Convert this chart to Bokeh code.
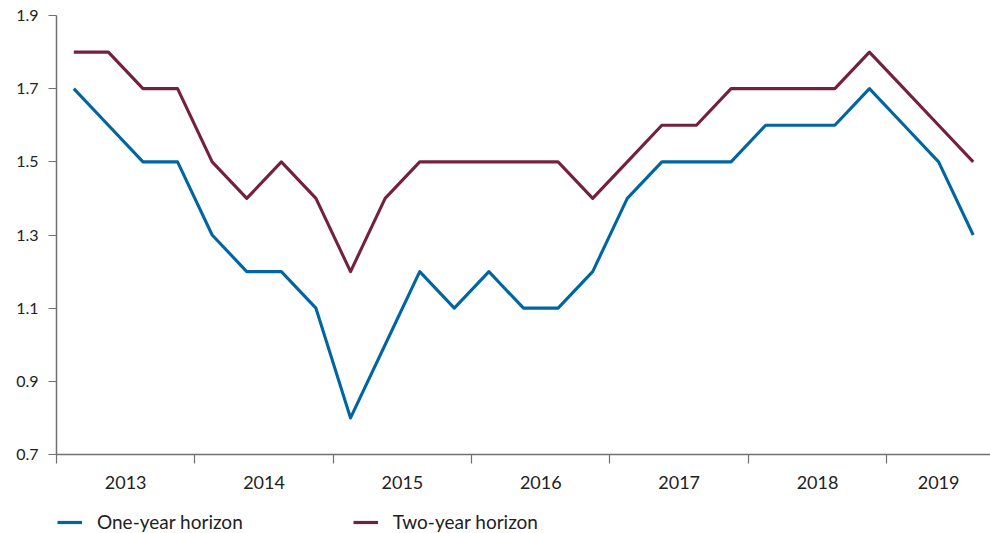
from bokeh.plotting import figure
from bokeh.layouts import column
from bokeh.models import FixedTicker, Legend, LegendItem, Range1d
from bokeh.embed import file_html
from bokeh.resources import INLINE

years = ["2013", "2014", "2015", "2016", "2017", "2018", "2019"]
quarters_per_year = [4, 4, 4, 4, 4, 4, 3]
one_year = [1.7, 1.6, 1.5, 1.5, 1.3, 1.2, 1.2, 1.1, 0.8, 1.0, 1.2, 1.1, 1.2, 1.1,
            1.1, 1.2, 1.4, 1.5, 1.5, 1.5, 1.6, 1.6, 1.6, 1.7, 1.6, 1.5, 1.3]
two_year = [1.8, 1.8, 1.7, 1.7, 1.5, 1.4, 1.5, 1.4, 1.2, 1.4, 1.5, 1.5, 1.5, 1.5,
            1.5, 1.4, 1.5, 1.6, 1.6, 1.7, 1.7, 1.7, 1.7, 1.8, 1.7, 1.6, 1.5]
y_ticks = [0.7, 0.9, 1.1, 1.3, 1.5, 1.7, 1.9]
series_names = ["One-year horizon", "Two-year horizon"]

BLUE = "#0066A2"
RED = "#75203D"
FONT = "Lato"

n = len(one_year)
x = [i + 0.5 for i in range(n)]

# year boundaries and centers
bounds = [0]
for q in quarters_per_year:
    bounds.append(bounds[-1] + q)
centers = [(bounds[i] + bounds[i + 1]) / 2 for i in range(len(years))]

p = figure(width=990, height=500, output_backend="svg", toolbar_location=None,
           x_range=Range1d(0, n), y_range=Range1d(0.7, 1.9),
           min_border_left=56, min_border_right=0, min_border_top=15,
           min_border_bottom=46)
p.outline_line_color = None
p.xgrid.visible = False
p.ygrid.visible = False
p.background_fill_color = "white"
p.border_fill_color = "white"

p.line(x, one_year, line_color=BLUE, line_width=3.1, line_join="round")
p.line(x, two_year, line_color=RED, line_width=3.1, line_join="round")

# y axis
p.yaxis.ticker = FixedTicker(ticks=y_ticks)
p.yaxis.major_label_overrides = {v: f"{v:.1f}" for v in y_ticks}
p.yaxis.axis_line_color = "#707070"
p.yaxis.axis_line_width = 1.5
p.yaxis.major_tick_line_color = "#707070"
p.yaxis.major_tick_line_width = 1.2
p.yaxis.major_tick_out = 8
p.yaxis.major_tick_in = 0
p.yaxis.minor_tick_line_color = None
p.yaxis.major_label_text_font = FONT
p.yaxis.major_label_text_font_size = "16px"
p.yaxis.major_label_text_color = "#222222"
p.yaxis.major_label_standoff = 10

# x axis
p.xaxis.ticker = FixedTicker(ticks=centers, minor_ticks=bounds[:-1])
p.xaxis.major_label_overrides = {c: y for c, y in zip(centers, years)}
p.xaxis.axis_line_color = "#707070"
p.xaxis.axis_line_width = 1.5
p.xaxis.major_tick_line_color = None
p.xaxis.major_tick_out = 0
p.xaxis.major_tick_in = 0
p.xaxis.minor_tick_line_color = "#707070"
p.xaxis.minor_tick_line_width = 1.2
p.xaxis.minor_tick_out = 9
p.xaxis.minor_tick_in = 0
p.xaxis.major_label_text_font = FONT
p.xaxis.major_label_text_font_size = "18px"
p.xaxis.major_label_text_color = "#222222"
p.xaxis.major_label_standoff = 12

# legend strip (series drawn out of view; only the legend shows)
lg = figure(width=990, height=33, output_backend="svg", toolbar_location=None,
            x_range=Range1d(0, n), y_range=Range1d(10, 11),
            x_axis_location=None, y_axis_location=None,
            min_border_left=56, min_border_right=0, min_border_top=0,
            min_border_bottom=0)
lg.outline_line_color = None
lg.xgrid.visible = False
lg.ygrid.visible = False
lr1 = lg.line(x, one_year, line_color=BLUE, line_width=3.2)
lr2 = lg.line(x, two_year, line_color=RED, line_width=3.2)

legend = Legend(items=[LegendItem(label=series_names[0], renderers=[lr1]),
                       LegendItem(label=series_names[1], renderers=[lr2])],
                orientation="horizontal", location=(1, 0))
legend.padding = 0
legend.margin = 0
legend.spacing = 110
legend.glyph_width = 25
legend.glyph_height = 18
legend.label_height = 18
legend.label_standoff = 15
legend.label_text_font = FONT
legend.label_text_font_size = "19px"
legend.label_text_color = "#222222"
legend.border_line_color = None
legend.background_fill_alpha = 0
lg.add_layout(legend, "center")

layout = column(p, lg, spacing=0)
open("out.html", "w").write(file_html(layout, INLINE))
